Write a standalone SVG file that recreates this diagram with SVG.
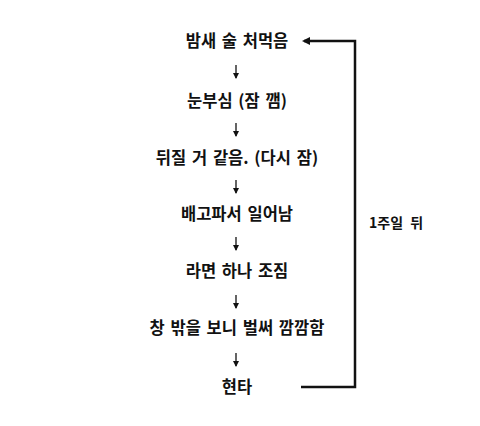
<svg xmlns="http://www.w3.org/2000/svg" width="480" height="426" viewBox="0 0 480 426">
<defs>
<style>
.t{font-family:"Noto Sans CJK KR","Noto Sans",sans-serif;font-weight:bold;font-size:16.5px;word-spacing:2px;fill:#111;text-anchor:middle;dominant-baseline:central}
.l{font-family:"Noto Sans CJK KR","Noto Sans",sans-serif;font-weight:bold;font-size:14px;word-spacing:4px;fill:#111;dominant-baseline:central}
.c{fill:none;stroke:#111;stroke-width:2.5}
.d{fill:none;stroke:#111;stroke-width:1.3}
</style>
<marker id="ah" markerWidth="8" markerHeight="8" refX="6" refY="4" orient="auto" markerUnits="userSpaceOnUse">
<path d="M0,0 L8,4 L0,8 Z" fill="#111"/>
</marker>
<marker id="sh" markerWidth="6" markerHeight="6" refX="5" refY="3" orient="auto" markerUnits="userSpaceOnUse">
<path d="M0,0 L6,3 L0,6 Z" fill="#111"/>
</marker>
</defs>
<rect width="480" height="426" fill="#fff"/>
<g id="n1"><text class="t" x="237" y="40">밤새 술 처먹음</text></g>
<g id="n2"><text class="t" x="237" y="100">눈부심 (잠 깸)</text></g>
<g id="n3"><text class="t" x="237" y="157">뒤질 거 같음. (다시 잠)</text></g>
<g id="n4"><text class="t" x="237" y="213">배고파서 일어남</text></g>
<g id="n5"><text class="t" x="237" y="270">라면 하나 조짐</text></g>
<g id="n6"><text class="t" x="237" y="327">창 밖을 보니 벌써 깜깜함</text></g>
<g id="n7"><text class="t" x="237" y="386">현타</text></g>
<g id="connectors">
<path class="d" d="M236,65 V78" marker-end="url(#sh)"/>
<path class="d" d="M236,123 V136" marker-end="url(#sh)"/>
<path class="d" d="M236,180 V193" marker-end="url(#sh)"/>
<path class="d" d="M236,237 V250" marker-end="url(#sh)"/>
<path class="d" d="M236,295 V308" marker-end="url(#sh)"/>
<path class="d" d="M236,353 V366" marker-end="url(#sh)"/>
<path class="c" d="M301,387 H355 V41 H304" marker-end="url(#ah)"/>
</g>
<g id="label"><text class="l" x="369" y="222">1주일 뒤</text></g>
</svg>
